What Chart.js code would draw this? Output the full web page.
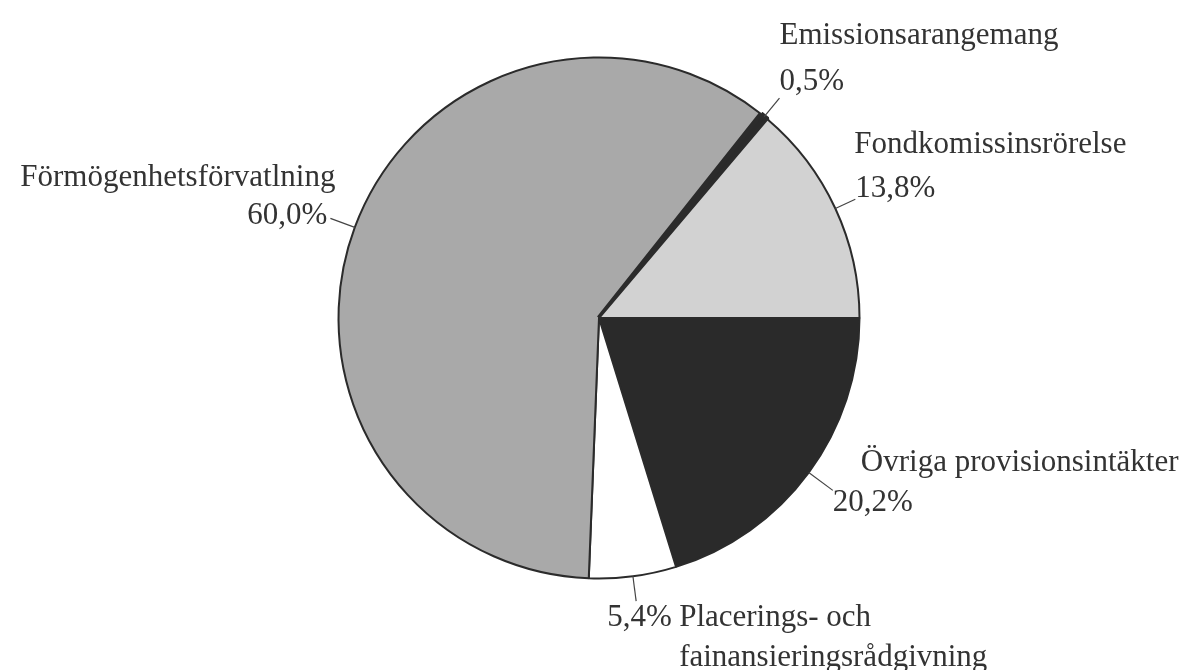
<!DOCTYPE html>
<html>
<head>
<meta charset="utf-8">
<script src="https://cdn.jsdelivr.net/npm/chart.js@4/dist/chart.umd.min.js"></script>
<style>
  html, body { margin: 0; padding: 0; background: #fff; }
  canvas { display: block; }
</style>
</head>
<body>
<canvas id="myChart" width="1187" height="670"></canvas>
<script>
// provisionsintäkter per område, andel i procent
var categories = [
  "Övriga provisionsintäkter",
  "Placerings- och\nfainansieringsrådgivning",
  "Förmögenhetsförvatlning",
  "Emissionsarangemang",
  "Fondkomissinsrörelse"
];
var shares = [20.2, 5.4, 60.0, 0.5, 13.8];
var sliceColors = ["#2a2a2a", "#ffffff", "#a9a9a9", "#2a2a2a", "#d2d2d2"];
var sliceBorders = [2, 2, 2, 5, 2];

// where each label sits, relative to the end of its leader line
var labelSetup = [
  { len: 30, pct: [0, 12, "left"], name: [28, -28, "left"] },
  { len: 25, pct: [-29, 17, "left"], name: [43, 17, "left"] },
  { len: 26, pct: [-3, -2, "right"], name: [5, -40, "right"] },
  { len: 24, pct: [0, -16, "left"], name: [0, -62, "left"] },
  { len: 22, pct: [0, -10, "left"], name: [-1, -54, "left"] }
];

function pctText(v) {
  return v.toFixed(1).replace(".", ",") + "%";
}

var sliceLabels = {
  id: "sliceLabels",
  afterDraw: function(chart) {
    var ctx = chart.ctx;
    var arcs = chart.getDatasetMeta(0).data;
    ctx.save();
    ctx.font = "31px 'Liberation Serif', 'Times New Roman', serif";
    ctx.fillStyle = "#333";
    ctx.strokeStyle = "#444";
    ctx.lineWidth = 1.2;
    ctx.textBaseline = "middle";
    for (var i = 0; i < arcs.length; i++) {
      var a = arcs[i];
      var cfg = labelSetup[i];
      var mid = (a.startAngle + a.endAngle) / 2;
      var r = a.outerRadius;
      var x0 = a.x + Math.cos(mid) * r;
      var y0 = a.y + Math.sin(mid) * r;
      var x1 = a.x + Math.cos(mid) * (r + cfg.len);
      var y1 = a.y + Math.sin(mid) * (r + cfg.len);
      ctx.beginPath();
      ctx.moveTo(x0, y0);
      ctx.lineTo(x1, y1);
      ctx.stroke();

      ctx.textAlign = cfg.pct[2];
      ctx.fillText(pctText(shares[i]), x1 + cfg.pct[0], y1 + cfg.pct[1]);

      ctx.textAlign = cfg.name[2];
      var lines = categories[i].split("\n");
      for (var j = 0; j < lines.length; j++) {
        ctx.fillText(lines[j], x1 + cfg.name[0], y1 + cfg.name[1] + j * 40);
      }
    }
    ctx.restore();
  }
};

var ctx = document.getElementById("myChart").getContext("2d");
var chart = new Chart(ctx, {
  type: "pie",
  data: {
    labels: categories,
    datasets: [{
      data: shares,
      backgroundColor: sliceColors,
      borderColor: "#2b2b2b",
      borderWidth: sliceBorders
    }]
  },
  options: {
    responsive: false,
    animation: false,
    rotation: 90,
    layout: {
      padding: { top: 55, bottom: 89, left: 336, right: 325 }
    },
    plugins: {
      legend: { display: false },
      tooltip: { enabled: false }
    }
  },
  plugins: [sliceLabels]
});
</script>
</body>
</html>
